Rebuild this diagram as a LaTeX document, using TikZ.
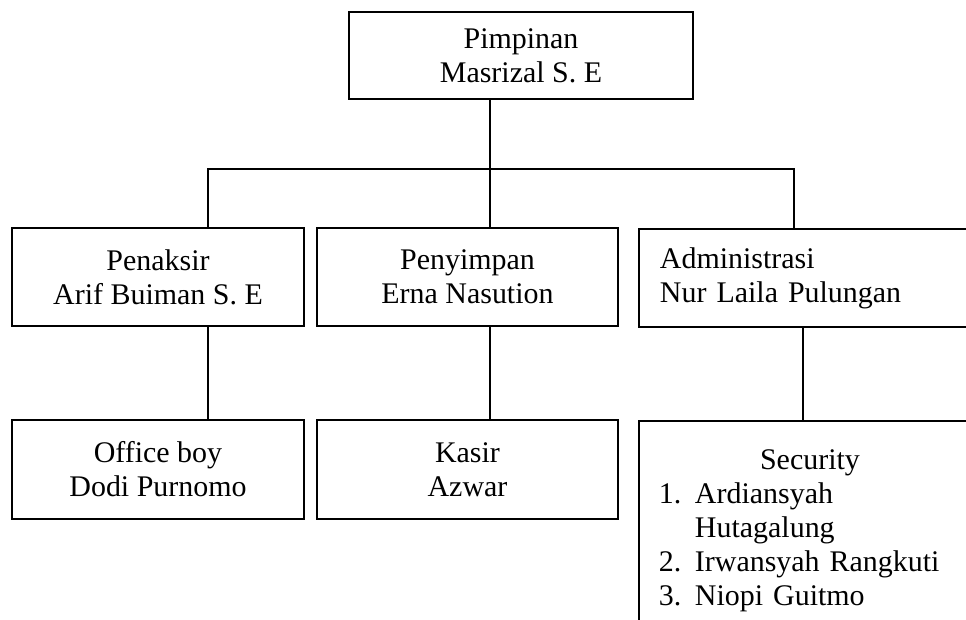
\documentclass[tikz,border=0pt]{standalone}
\usepackage{fontspec}
\setmainfont{Liberation Serif}
\usepackage{tikz}
\usetikzlibrary{positioning,calc}

\tikzset{
  unit/.style={draw, line width=1.4pt, minimum height=2.45cm, align=center, inner sep=0pt,
    font=\fontsize{21.3}{24.2}\selectfont},
  wire/.style={line width=0.8pt}
}

\begin{document}
\begin{tikzpicture}
  \clip (0,0) rectangle (24.15,-15.5);

  % Top
  \node[unit, minimum width=8.6cm, minimum height=2.175cm] (pimpin) at (13.025,-1.3875)
    {Pimpinan\\Masrizal S. E};

  % Middle row
  \node[unit, minimum width=7.3cm] (taksir) at (3.95,-6.925) {Penaksir\\Arif Buiman S. E};
  \node[unit, minimum width=7.525cm] (simpan) at (11.6875,-6.925) {Penyimpan\\Erna Nasution};
  \node[unit, anchor=north west, text width=7.5cm, inner xsep=0.525cm, align=left] (admin)
    at (15.95,-5.7) {Administrasi\\Nur Laila Pulungan};

  % Bottom row
  \node[unit, minimum width=7.3cm, minimum height=2.475cm] (ob) at (3.95,-11.7375) {Office boy\\Dodi Purnomo};
  \node[unit, minimum width=7.525cm, minimum height=2.475cm] (kasir) at (11.6875,-11.7375) {Kasir\\Azwar};
  \node[unit, anchor=north west, text width=7.55cm, inner xsep=0.5cm, minimum height=5.5cm, align=left] (secu)
    at (15.95,-10.5)
    {\makebox[7.55cm]{Security}\\
     \makebox[0.9cm][l]{1.}Ardiansyah\\
     \hspace*{0.9cm}Hutagalung\\
     \makebox[0.9cm][l]{2.}Irwansyah Rangkuti\\
     \makebox[0.9cm][l]{3.}Niopi Guitmo};

  % Bus
  \coordinate (busL) at (5.2,-4.225);
  \coordinate (busM) at (12.25,-4.225);
  \coordinate (busR) at (19.85,-4.225);
  \coordinate (dropR) at (20.075,0);

  \draw[wire] (pimpin.south -| busM) -- (busM);
  \draw[wire] (busL |- taksir.north) -- (busL) -- (busR) -- (busR |- admin.north);
  \draw[wire] (busM) -- (busM |- simpan.north);

  \draw[wire] (taksir.south -| busL) -- (ob.north -| busL);
  \draw[wire] (simpan.south -| busM) -- (kasir.north -| busM);
  \draw[wire] (admin.south -| dropR) -- (secu.north -| dropR);
\end{tikzpicture}
\end{document}
